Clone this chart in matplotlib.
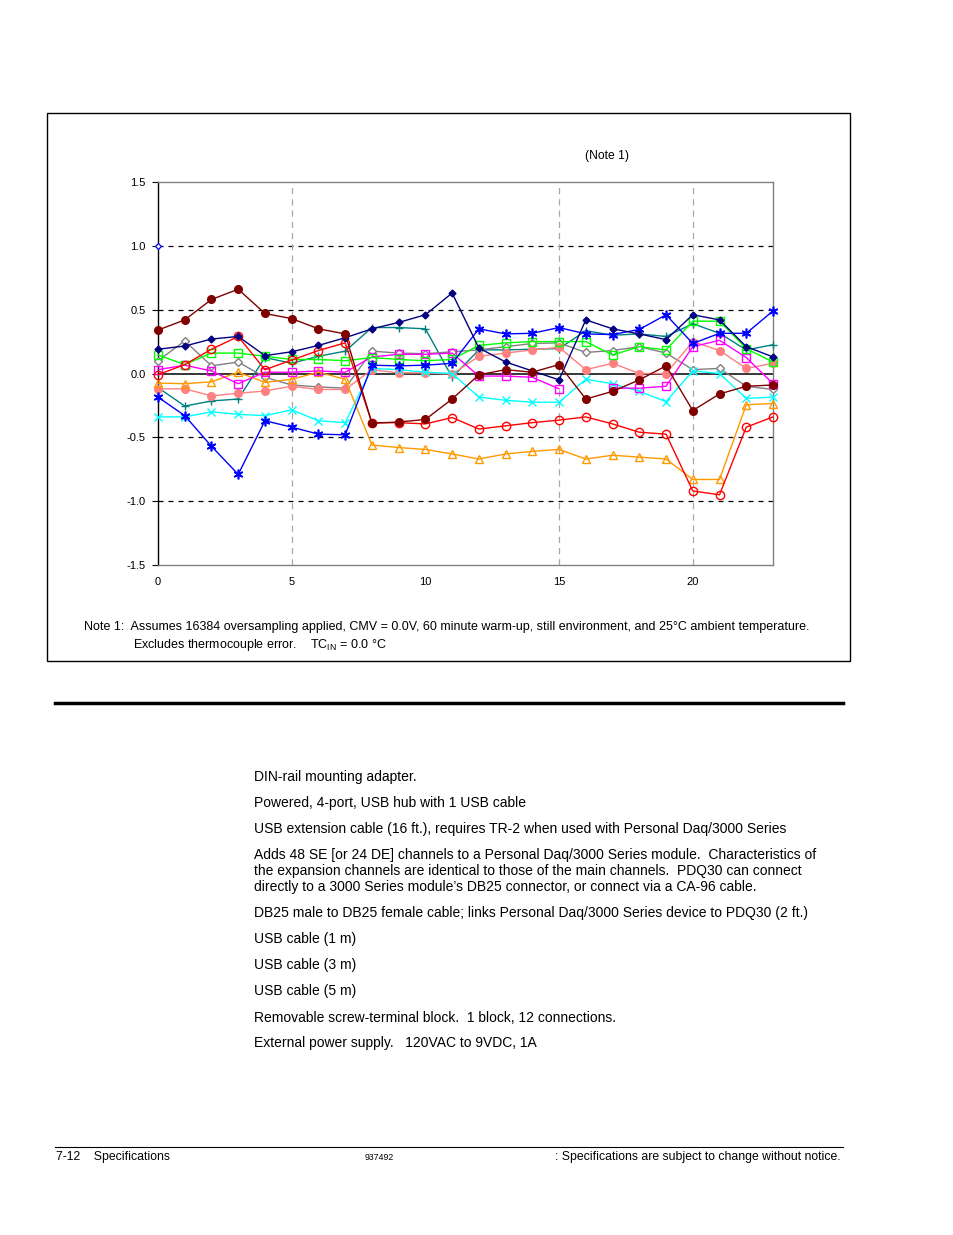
import numpy as np
import matplotlib
matplotlib.use("Agg")
import matplotlib.pyplot as plt
from matplotlib.patches import Rectangle
from matplotlib.lines import Line2D

plt.rcParams['font.family'] = ['Liberation Sans', 'DejaVu Sans']

x = list(range(24))
nan = np.nan

maroon = [0.34, 0.42, 0.58, 0.66, 0.47, 0.43, 0.35, 0.31, -0.39, -0.38, -0.36, -0.20,
          -0.01, 0.03, 0.01, 0.07, -0.20, -0.14, -0.05, 0.06, -0.29, -0.16, -0.10, -0.09]
navy = [0.19, 0.215, 0.27, 0.29, 0.14, 0.17, 0.22, 0.28, 0.35, 0.40, 0.46, 0.63,
        0.20, 0.09, 0.02, -0.05, 0.42, 0.35, 0.31, 0.265, 0.46, 0.42, 0.21, 0.13]
red = [-0.01, 0.07, 0.19, 0.29, 0.03, 0.105, 0.18, 0.24, -0.385, -0.385, -0.395, -0.345,
       -0.435, -0.41, -0.385, -0.365, -0.34, -0.395, -0.46, -0.475, -0.92, -0.95, -0.42, -0.34]
green = [0.145, 0.07, 0.16, 0.16, 0.135, 0.11, 0.11, 0.10, 0.125, 0.11, 0.10, 0.11,
         0.22, 0.24, 0.25, 0.25, 0.25, 0.145, 0.21, 0.185, 0.41, 0.41, 0.195, 0.09]
gray = [0.10, 0.255, 0.06, 0.09, -0.03, -0.09, -0.105, -0.115, 0.175, 0.16, 0.155, 0.17,
        0.185, 0.21, 0.235, 0.24, 0.165, 0.18, 0.21, 0.16, 0.03, 0.04, -0.10, -0.125]
magenta = [0.03, 0.065, 0.02, -0.08, 0.01, 0.01, 0.02, 0.01, 0.13, 0.15, 0.15, 0.16,
           -0.02, -0.02, -0.03, -0.12, nan, -0.115, -0.115, -0.10, 0.21, 0.26, 0.125, -0.08]
orange = [-0.075, -0.08, -0.065, 0.01, -0.07, -0.045, 0.01, -0.045, -0.56, -0.58, -0.595, -0.63,
          -0.67, -0.63, -0.61, -0.595, -0.67, -0.64, -0.655, -0.67, -0.83, -0.83, -0.245, -0.235]
salmon = [-0.12, -0.12, -0.175, -0.155, -0.137, -0.10, -0.125, -0.125, 0.03, 0.005, 0.005, -0.005,
          0.135, 0.16, 0.185, 0.205, 0.03, 0.08, 0.0, 0.0, 0.25, 0.18, 0.04, 0.08]
teal = [-0.11, -0.255, -0.215, -0.20, 0.125, 0.08, 0.135, 0.175, 0.36, 0.36, 0.35, -0.03,
        0.185, 0.185, 0.19, 0.195, 0.335, 0.30, 0.31, 0.29, 0.39, 0.315, 0.185, 0.225]
cyan = [-0.34, -0.34, -0.30, -0.32, -0.33, -0.285, -0.37, -0.385, 0.04, 0.03, 0.01, 0.0,
        -0.185, -0.21, -0.225, -0.225, -0.045, -0.08, -0.14, -0.22, 0.02, 0.0, -0.195, -0.185]
blue = [-0.185, -0.33, -0.57, -0.79, -0.37, -0.42, -0.475, -0.48, 0.065, 0.06, 0.065, 0.08,
        0.35, 0.31, 0.315, 0.36, 0.31, 0.305, 0.345, 0.46, 0.235, 0.315, 0.315, 0.49]
ref_x = [0]
ref_y = [1.0]

yticks = [-1.5, -1.0, -0.5, 0.0, 0.5, 1.0, 1.5]
ytick_labels = ['-1.5', '-1.0', '-0.5', '0.0', '0.5', '1.0', '1.5']
xticks = [0, 5, 10, 15, 20]
xtick_labels = ['0', '5', '10', '15', '20']

W, H = 954, 1235
fig = plt.figure(figsize=(W / 100, H / 100), dpi=100)

def fx(px):
    return px / W

def fy(py):
    return 1 - py / H

ax = fig.add_axes([fx(158), fy(565), fx(773) - fx(158), fy(182) - fy(565)])
ax.set_xlim(0, 23)
ax.set_ylim(-1.5, 1.5)

# gridlines
for yv in [-1.0, -0.5, 0.5, 1.0]:
    ax.axhline(yv, color='black', lw=0.9, ls=(0, (4, 4)), zorder=1)
ax.axhline(0.0, color='black', lw=1.1, zorder=1)
for xv in [5, 15, 20]:
    ax.axvline(xv, color='#a8a8a8', lw=0.9, ls=(0, (5, 4)), zorder=1)

series = [
    (teal, '#008080', dict(marker='+', ms=6, mfc='#008080', mew=1.0)),
    (gray, '#808080', dict(marker='D', ms=4, mfc='white', mew=1.0)),
    (salmon, '#FF8080', dict(marker='o', ms=5.5, mfc='#FF8080', mew=1.0)),
    (cyan, '#00FFFF', dict(marker='x', ms=6, mew=1.0)),
    (orange, '#FF9900', dict(marker='^', ms=5.5, mfc='none', mew=1.0)),
    (magenta, '#FF00FF', dict(marker='s', ms=5.5, mfc='none', mew=1.0)),
    (green, '#00FF00', dict(marker='s', ms=6, mfc='none', mew=1.0)),
    (red, '#FF0000', dict(marker='o', ms=6, mfc='none', mew=1.0)),
    (blue, '#0000FF', dict(marker=(6, 2, 0), ms=7, mew=1.2)),
    (navy, '#000080', dict(marker='D', ms=3.5, mfc='#000080', mew=1.0)),
    (maroon, '#800000', dict(marker='o', ms=5.5, mfc='#800000', mew=1.0)),
]
for i, (vals, col, kw) in enumerate(series):
    ax.plot(x, vals, color=col, lw=1.0, mec=col, zorder=3 + i, clip_on=False, **kw)
ax.plot(ref_x, ref_y, ls='none', marker='D', ms=3, mfc='white', mec='#0000FF', mew=0.9,
        zorder=20, clip_on=False)

for side in ['top', 'right', 'bottom']:
    ax.spines[side].set_color('#808080')
    ax.spines[side].set_linewidth(1.0)
ax.spines['left'].set_color('black')
ax.spines['left'].set_linewidth(1.0)
ax.spines['left'].set_zorder(2)

ax.set_yticks(yticks)
ax.set_yticklabels(ytick_labels, fontsize=8)
ax.set_xticks(xticks)
ax.set_xticklabels(xtick_labels, fontsize=8)
ax.tick_params(axis='y', direction='out', length=4, width=0.8, pad=5, colors='black')
ax.tick_params(axis='x', length=0, pad=8.5)

# outer chart box
fig.patches.append(Rectangle((fx(47), fy(661)), fx(850) - fx(47), fy(113) - fy(661),
                             transform=fig.transFigure, fill=False, ec='black', lw=1.0))

fig.text(fx(607), fy(156), '(Note 1)', fontsize=8.7, ha='center', va='center')
fig.text(fx(84), fy(627),
         'Note 1:  Assumes 16384 oversampling applied, CMV = 0.0V, 60 minute warm-up, still environment, and 25°C ambient temperature.',
         fontsize=9, ha='left', va='center')
fig.text(fx(133), fy(645), 'Excludes thermocouple error.    TC$_{\\mathregular{IN}}$ = 0.0 °C',
         fontsize=9, ha='left', va='center')

# horizontal rule
fig.add_artist(Line2D([fx(55), fx(843)], [fy(703), fy(703)], transform=fig.transFigure,
                      color='black', lw=2.5))

lines = [
    (777, 'DIN-rail mounting adapter.'),
    (803, 'Powered, 4-port, USB hub with 1 USB cable'),
    (829, 'USB extension cable (16 ft.), requires TR-2 when used with Personal Daq/3000 Series'),
    (855, 'Adds 48 SE [or 24 DE] channels to a Personal Daq/3000 Series module.  Characteristics of'),
    (871, 'the expansion channels are identical to those of the main channels.  PDQ30 can connect'),
    (887, 'directly to a 3000 Series module\u2019s DB25 connector, or connect via a CA-96 cable.'),
    (913, 'DB25 male to DB25 female cable; links Personal Daq/3000 Series device to PDQ30 (2 ft.)'),
    (939, 'USB cable (1 m)'),
    (965, 'USB cable (3 m)'),
    (991, 'USB cable (5 m)'),
    (1017, 'Removable screw-terminal block.  1 block, 12 connections.'),
    (1043, 'External power supply.   120VAC to 9VDC, 1A'),
]
for py, t in lines:
    fig.text(fx(254), fy(py + 0.5), t, fontsize=10, ha='left', va='center')

fig.add_artist(Line2D([fx(55), fx(843)], [fy(1147), fy(1147)], transform=fig.transFigure,
                      color='black', lw=0.8))
fig.text(fx(56), fy(1157), '7-12    Specifications', fontsize=8.8, ha='left', va='center')
fig.text(fx(379), fy(1158), '937492', fontsize=6.3, ha='center', va='center')
fig.text(fx(841), fy(1157), ': Specifications are subject to change without notice.',
         fontsize=8.8, ha='right', va='center')

fig.savefig('out.png', dpi=100)
